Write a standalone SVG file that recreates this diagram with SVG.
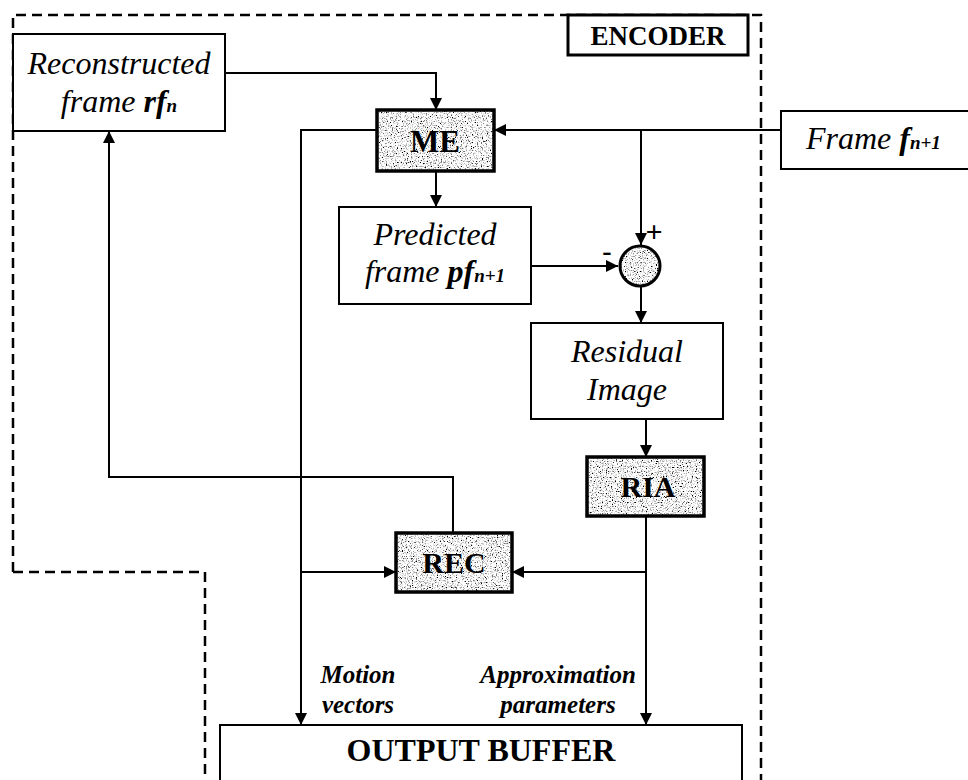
<svg xmlns="http://www.w3.org/2000/svg" width="968" height="780" viewBox="0 0 968 780">
<style>
.box{fill:#fff;stroke:#000;stroke-width:2}
.dark{fill:none;stroke:#000;stroke-width:3.5}
.ln{fill:none;stroke:#000;stroke-width:2}
.dash{fill:none;stroke:#000;stroke-width:2.5;stroke-dasharray:10 6}
.it{font-family:"Liberation Serif",serif;font-style:italic;font-size:32px;fill:#000}
.bi{font-family:"Liberation Serif",serif;font-style:italic;font-weight:bold;font-size:25px;fill:#000}
.b{font-family:"Liberation Serif",serif;font-weight:bold;fill:#000}
.sub{font-size:19px;font-weight:bold}
</style>
<defs>
<marker id="ah" viewBox="0 0 10 10" refX="10" refY="5" markerWidth="12" markerHeight="12" markerUnits="userSpaceOnUse" orient="auto">
<path d="M0,0 L10,5 L0,10 z" fill="#000"/>
</marker>
<filter id="grain" x="0" y="0" width="100%" height="100%">
<feTurbulence type="fractalNoise" baseFrequency="0.8" numOctaves="2" seed="5" result="n"/>
<feColorMatrix in="n" type="matrix" values="4 0 0 0 -1.0  4 0 0 0 -1.0  4 0 0 0 -1.0  0 0 0 0 1" result="g"/>
<feComposite in="g" in2="SourceGraphic" operator="in"/>
</filter>
</defs>

<g id="encoder-boundary">
<path class="dash" d="M13,572 L13,15 L761,15 L761,780"/>
<path class="dash" d="M13,572 L205,572 L205,780"/>
</g>

<g id="encoder-label">
<rect class="box" x="568" y="15" width="180" height="40" style="stroke-width:3"/>
<text class="b" x="658" y="45" font-size="27" text-anchor="middle">ENCODER</text>
</g>

<g id="connectors">
<path class="ln" d="M225,73 L436,73 L436,110" marker-end="url(#ah)"/>
<path class="ln" d="M781,130 L494,130" marker-end="url(#ah)"/>
<path class="ln" d="M641,130 L641,245" marker-end="url(#ah)"/>
<path class="ln" d="M436,171 L436,207" marker-end="url(#ah)"/>
<path class="ln" d="M531,266 L618,266" marker-end="url(#ah)"/>
<path class="ln" d="M641,287 L641,323" marker-end="url(#ah)"/>
<path class="ln" d="M646,419 L646,457" marker-end="url(#ah)"/>
<path class="ln" d="M646,516 L646,725" marker-end="url(#ah)"/>
<path class="ln" d="M646,572 L512,572" marker-end="url(#ah)"/>
<path class="ln" d="M377,130 L301,130 L301,725" marker-end="url(#ah)"/>
<path class="ln" d="M301,572 L396,572" marker-end="url(#ah)"/>
<path class="ln" d="M453,533 L453,477 L109,477 L109,131" marker-end="url(#ah)"/>
</g>

<g id="reconstructed-frame">
<rect class="box" x="13" y="34" width="212" height="97"/>
<text class="it" x="119" y="74" text-anchor="middle">Reconstructed</text>
<text class="it" x="119" y="112" text-anchor="middle">frame <tspan font-weight="bold">rf</tspan><tspan class="sub" font-size="19">n</tspan></text>
</g>

<g id="me">
<rect x="377" y="110" width="117" height="61" fill="#fff" filter="url(#grain)"/>
<rect class="dark" x="377" y="110" width="117" height="61"/>
<text class="b" x="435" y="152" font-size="31" text-anchor="middle">ME</text>
</g>

<g id="frame-input">
<rect class="box" x="781" y="111" width="200" height="58"/>
<text class="it" x="806" y="149">Frame <tspan font-weight="bold">f</tspan><tspan class="sub" font-size="21">n+1</tspan></text>
</g>

<g id="predicted-frame">
<rect class="box" x="339" y="207" width="192" height="97"/>
<text class="it" x="435" y="245" text-anchor="middle">Predicted</text>
<text class="it" x="435" y="282" text-anchor="middle">frame <tspan font-weight="bold">pf</tspan><tspan class="sub" font-size="19">n+1</tspan></text>
</g>

<g id="subtractor">
<circle cx="640" cy="266" r="20" fill="#fff" filter="url(#grain)"/>
<circle cx="640" cy="266" r="20" class="dark" style="stroke-width:3"/>
<text class="b" x="654" y="242" font-size="30" text-anchor="middle">+</text>
<text class="b" x="607" y="260" font-size="28" text-anchor="middle">-</text>
</g>

<g id="residual-image">
<rect class="box" x="531" y="323" width="192" height="96"/>
<text class="it" x="627" y="362" text-anchor="middle">Residual</text>
<text class="it" x="627" y="400" text-anchor="middle">Image</text>
</g>

<g id="ria">
<rect x="587" y="457" width="117" height="59" fill="#fff" filter="url(#grain)"/>
<rect class="dark" x="587" y="457" width="117" height="59"/>
<text class="b" x="648" y="497" font-size="30" text-anchor="middle">RIA</text>
</g>

<g id="rec">
<rect x="396" y="533" width="116" height="59" fill="#fff" filter="url(#grain)"/>
<rect class="dark" x="396" y="533" width="116" height="59"/>
<text class="b" x="454" y="573" font-size="30" text-anchor="middle">REC</text>
</g>

<g id="labels">
<text class="bi" x="358" y="683" text-anchor="middle">Motion</text>
<text class="bi" x="358" y="713" text-anchor="middle">vectors</text>
<text class="bi" x="558" y="683" font-size="26" text-anchor="middle">Approximation</text>
<text class="bi" x="558" y="713" font-size="26" text-anchor="middle">parameters</text>
</g>

<g id="output-buffer">
<rect class="box" x="220" y="725" width="522" height="70"/>
<text class="b" x="481" y="761" font-size="32" text-anchor="middle">OUTPUT BUFFER</text>
</g>
</svg>
